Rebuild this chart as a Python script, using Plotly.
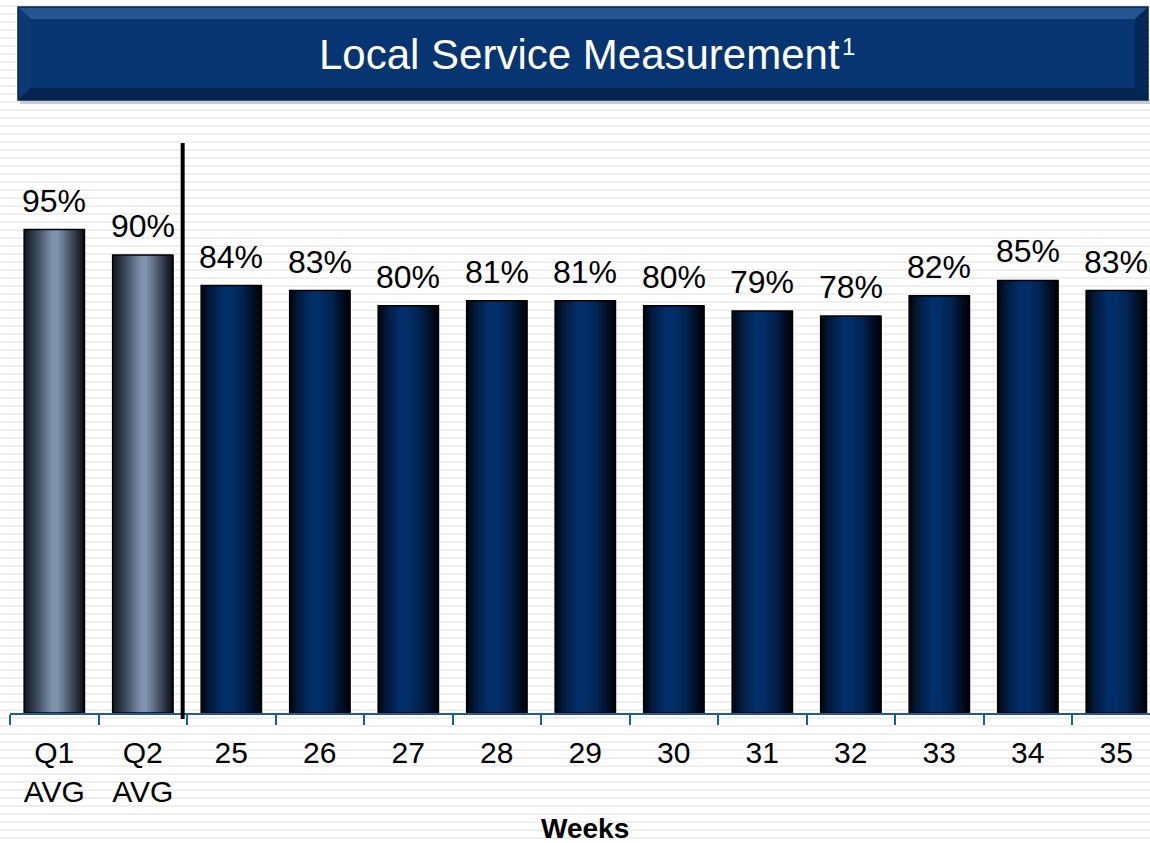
import plotly.graph_objects as go

# ---------------- data ----------------
categories = ["Q1<br>AVG", "Q2<br>AVG", "25", "26", "27", "28", "29", "30", "31", "32", "33", "34", "35"]
values = [95, 90, 84, 83, 80, 81, 81, 80, 79, 78, 82, 85, 83]
groups = ["avg", "avg", "wk", "wk", "wk", "wk", "wk", "wk", "wk", "wk", "wk", "wk", "wk"]
title_main = "Local Service Measurement"
title_note = "1"
x_title = "Weeks"

# ---------------- geometry helpers ----------------
W, H = 1150, 843
L, R, T, B = 10, 0, 143, 130
PW, PH = W - L - R, H - T - B
CAT_PX = 88.5
BW = 0.68
FONT = "Liberation Sans, Arial, sans-serif"


def px_x(p):
    return (p - L) / PW


def px_y(p):
    return (H - B - p) / PH


def hexmix(c1, c2, t):
    a = [int(c1[i:i + 2], 16) for i in (1, 3, 5)]
    b = [int(c2[i:i + 2], 16) for i in (1, 3, 5)]
    return "#" + "".join(f"{round(a[k] + (b[k] - a[k]) * t):02x}" for k in range(3))


def grad(stops, t):
    for (t0, c0), (t1, c1) in zip(stops, stops[1:]):
        if t0 <= t <= t1:
            return hexmix(c0, c1, (t - t0) / (t1 - t0) if t1 > t0 else 0)
    return stops[-1][1]


navy_stops = [(0.0, "#01040a"), (0.15, "#021b3e"), (0.38, "#03306b"), (0.5, "#032f68"),
              (0.7, "#02234e"), (0.88, "#010e22"), (1.0, "#000206")]
gray_stops = [(0.0, "#10141b"), (0.2, "#3b475a"), (0.45, "#7b8da7"), (0.55, "#8195ae"),
              (0.75, "#4c596d"), (0.9, "#222a36"), (1.0, "#0b0e13")]

idx = list(range(len(categories)))

fig = go.Figure()

N = 30
sw = BW / N
for i in range(N):
    t = (i + 0.5) / N
    cols = [grad(gray_stops if g == "avg" else navy_stops, t) for g in groups]
    fig.add_trace(go.Bar(
        x=idx, y=values, width=sw * 1.4, offset=-BW / 2 + i * sw,
        marker=dict(color=cols, line=dict(width=0)),
        hoverinfo="skip", showlegend=False,
    ))
# outline
fig.add_trace(go.Bar(
    x=idx, y=values, width=BW, offset=-BW / 2,
    marker=dict(color="rgba(0,0,0,0)", line=dict(color="#000000", width=1.5)),
    hoverinfo="skip", showlegend=False,
))

shapes = []
# background stripes
x0p, x1p = px_x(0), px_x(W)
y = 6
while y < H:
    shapes.append(dict(type="line", xref="paper", yref="paper", x0=x0p, x1=x1p,
                       y0=px_y(y), y1=px_y(y), line=dict(color="#efefef", width=2), layer="below"))
    y += 8

# title banner
bx0, bx1, by0, by1 = 18, 1148, 7, 100


def rect(x0, y0, x1, y1, color):
    return dict(type="rect", xref="paper", yref="paper", x0=px_x(x0), x1=px_x(x1),
                y0=px_y(y1), y1=px_y(y0), fillcolor=color, line=dict(width=0), layer="above")


def poly(pts, color):
    path = "M " + " L ".join(f"{px_x(a)},{px_y(b)}" for a, b in pts) + " Z"
    return dict(type="path", xref="paper", yref="paper", path=path, fillcolor=color,
                line=dict(width=0), layer="above")


shapes.append(rect(bx0 + 2, by1, bx1 + 2, by1 + 4, "#c9ccd2"))
shapes.append(rect(bx0, by0, bx1, by1, "#06326c"))
shapes.append(poly([(bx0, by0), (bx1, by0), (bx1 - 13, by0 + 12), (bx0 + 13, by0 + 12)], "#23558f"))
shapes.append(poly([(bx0, by0), (bx0 + 13, by0 + 12), (bx0 + 13, by1 - 12), (bx0, by1)], "#0b3b77"))
shapes.append(poly([(bx1, by0), (bx1 - 13, by0 + 12), (bx1 - 13, by1 - 12), (bx1, by1)], "#042858"))
shapes.append(poly([(bx0, by1), (bx0 + 13, by1 - 12), (bx1 - 13, by1 - 12), (bx1, by1)], "#032550"))
shapes.append(rect(bx0 + 13, by0 + 12, bx1 - 13, by1 - 12, "#073571"))
shapes.append(dict(type="rect", xref="paper", yref="paper", x0=px_x(bx0), x1=px_x(bx1),
                   y0=px_y(by1), y1=px_y(by0), fillcolor="rgba(0,0,0,0)",
                   line=dict(color="#0a2347", width=1.5), layer="above"))

# separator line between averages and weeks
shapes.append(dict(type="line", xref="x", yref="paper", x0=1.451, x1=1.451,
                   y0=px_y(719), y1=px_y(143), line=dict(color="#000000", width=4), layer="above"))

annotations = [
    dict(x=i, y=v, text=f"{v}%", showarrow=False, yanchor="bottom", yshift=9,
         font=dict(family=FONT, size=32, color="#000000"))
    for i, v in zip(idx, values)
]
annotations.append(dict(x=px_x(842), y=px_y(55), xref="paper", yref="paper", text=title_main,
                        showarrow=False, xanchor="right", yanchor="middle",
                        font=dict(family=FONT, size=42, color="#ffffff")))
annotations.append(dict(x=px_x(840), y=px_y(47), xref="paper", yref="paper", text=title_note,
                        showarrow=False, xanchor="left", yanchor="middle",
                        font=dict(family=FONT, size=24, color="#ffffff")))
annotations.append(dict(x=px_x(585), y=px_y(828), xref="paper", yref="paper", text=f"<b>{x_title}</b>",
                        showarrow=False, xanchor="center", yanchor="middle",
                        font=dict(family=FONT, size=28, color="#000000")))

fig.update_layout(
    width=W, height=H,
    margin=dict(l=L, r=R, t=T, b=B, pad=0),
    paper_bgcolor="#ffffff", plot_bgcolor="rgba(0,0,0,0)",
    barmode="overlay", showlegend=False,
    shapes=shapes, annotations=annotations,
    hovermode=False,
    xaxis=dict(
        type="linear", range=[-0.5, -0.5 + PW / CAT_PX],
        tickmode="array", tickvals=idx, ticktext=categories,
        showline=True, linecolor="#1f5b95", linewidth=2,
        ticks="", ticklabelstandoff=12,
        tickfont=dict(family=FONT, size=30, color="#000000"),
        showgrid=False, zeroline=False, fixedrange=True,
        minor=dict(tickmode="array", tickvals=[i - 0.5 for i in idx] + [len(idx) - 0.5],
                   ticks="outside", ticklen=10, tickwidth=2, tickcolor="#1f5b95", showgrid=False),
    ),
    yaxis=dict(range=[0, 112], visible=False, showgrid=False, zeroline=False, fixedrange=True),
    font=dict(family=FONT),
)

fig.write_html("out.html", config={"displayModeBar": False})
